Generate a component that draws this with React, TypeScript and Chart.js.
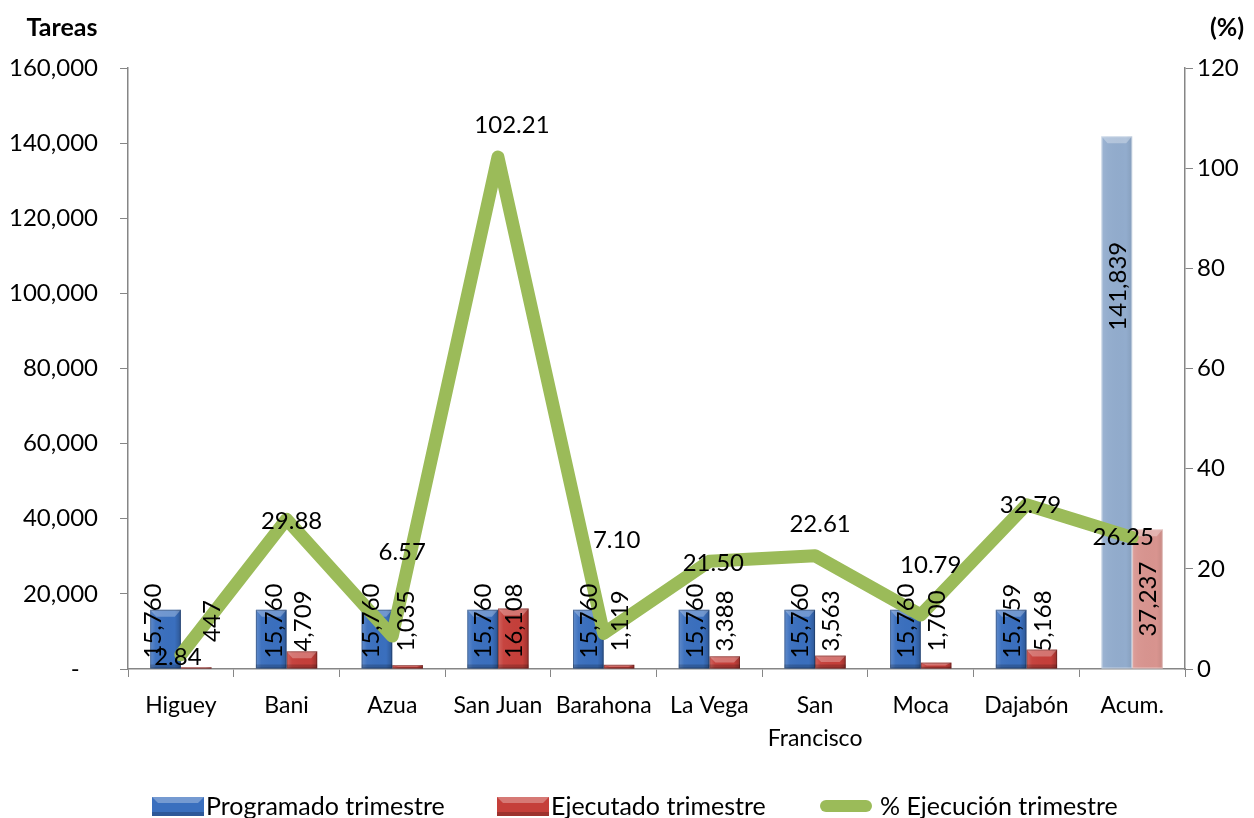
import React, { useEffect, useRef } from 'react';
import { Chart, registerables } from 'chart.js';

Chart.register(...registerables);

// ---- data ----
const categories: (string | string[])[] = [
  'Higuey', 'Bani', 'Azua', 'San Juan', 'Barahona', 'La Vega', ['San', 'Francisco'], 'Moca', 'Dajabón', 'Acum.',
];
const programado = [15760, 15760, 15760, 15760, 15760, 15760, 15760, 15760, 15759, 141839];
const ejecutado = [447, 4709, 1035, 16108, 1119, 3388, 3563, 1700, 5168, 37237];
const ejecucionPct = [2.84, 29.88, 6.57, 102.21, 7.1, 21.5, 22.61, 10.79, 32.79, 26.25];
const seriesNames = ['Programado trimestre', 'Ejecutado trimestre', '% Ejecución trimestre'];
const leftAxisTitle = 'Tareas';
const rightAxisTitle = '(%)';
const leftMax = 160000;
const leftStep = 20000;
const rightMax = 120;
const rightStep = 20;

// ---- style ----
const FONT = 'Lato, "Open Sans", sans-serif';
const BLUE = '#3A6FBE';
const RED = '#C53F3A';
const BLUE_LIGHT = '#92ACCD';
const RED_LIGHT = '#D8948F';
const GREEN = '#9BBB59';
const AXIS = '#868686';
// label shifts (pixels) for the % labels, per category [dx, dy]
const lineLabelShift = [[-3, 2], [5, 2], [10, -84], [14, -32], [13, -93], [4, 2], [5, -31], [10, -50], [4, 0], [-9, 0]];
// x shifts for the bar labels [programado, ejecutado]
const barLabelShiftX = [[-13, 15], [2, 0], [-7, -2], [0, 0], [0, 0], [0, 0], [0, 0], [0, 0], [0, 0], [0, 0]];

const fmt = (v: number) => v.toLocaleString('en-US');

const decorPlugin = {
  id: 'decor',
  afterDatasetDraw(chart: any, args: any) {
    if (args.index > 1) return;
    const ctx = chart.ctx as CanvasRenderingContext2D;
    const last = args.meta.data.length - 1;
    args.meta.data.forEach((bar: any, i: number) => {
      const { x, y, base, width } = bar.getProps(['x', 'y', 'base', 'width'], true);
      const l = x - width / 2;
      const r = x + width / 2;
      const h = base - y;
      if (h <= 0) return;
      ctx.save();
      const soft = i === last;
      const g = ctx.createLinearGradient(l, 0, r, 0);
      g.addColorStop(0, soft ? 'rgba(255,255,255,0.10)' : 'rgba(255,255,255,0.20)');
      g.addColorStop(0.18, 'rgba(255,255,255,0.03)');
      g.addColorStop(0.8, 'rgba(0,0,0,0)');
      g.addColorStop(1, soft ? 'rgba(0,0,0,0.08)' : 'rgba(0,0,0,0.22)');
      ctx.fillStyle = g;
      ctx.fillRect(l, y, width, h);
      const bh = Math.min(7, h / 2);
      ctx.beginPath();
      ctx.moveTo(l, y);
      ctx.lineTo(r, y);
      ctx.lineTo(r - 6, y + bh);
      ctx.lineTo(l + 6, y + bh);
      ctx.closePath();
      ctx.fillStyle = soft ? 'rgba(255,255,255,0.3)' : 'rgba(255,255,255,0.28)';
      ctx.fill();
      if (!soft) {
        const bb = Math.min(4, h / 3);
        ctx.fillStyle = 'rgba(0,0,0,0.18)';
        ctx.fillRect(l, base - bb, width, bb);
      }
      ctx.strokeStyle = soft ? 'rgba(255,255,255,0.45)' : 'rgba(0,0,0,0.25)';
      ctx.lineWidth = 1;
      ctx.strokeRect(l + 0.5, y + 0.5, width - 1, h - 1);
      ctx.restore();
    });
  },
  afterDatasetsDraw(chart: any) {
    const ctx = chart.ctx as CanvasRenderingContext2D;
    const zeroY = chart.scales.y.getPixelForValue(0);
    ctx.save();
    ctx.fillStyle = '#000';
    ctx.font = `24px ${FONT}`;
    ctx.textAlign = 'center';
    ctx.textBaseline = 'middle';
    [0, 1].forEach((di) => {
      const meta = chart.getDatasetMeta(di);
      const values = chart.data.datasets[di].data as number[];
      meta.data.forEach((bar: any, i: number) => {
        const { x, y } = bar.getProps(['x', 'y'], true);
        const h = zeroY - y;
        const cy = h > 100 ? y + Math.min(h / 2, 150) : zeroY - 48;
        ctx.save();
        ctx.translate(x + barLabelShiftX[i][di], cy);
        ctx.rotate(-Math.PI / 2);
        ctx.fillText(fmt(values[i]), 0, 1);
        ctx.restore();
      });
    });
    const lmeta = chart.getDatasetMeta(2);
    const lvals = chart.data.datasets[2].data as number[];
    lmeta.data.forEach((pt: any, i: number) => {
      const { x, y } = pt.getProps(['x', 'y'], true);
      ctx.fillText(lvals[i].toFixed(2), x + lineLabelShift[i][0], y + lineLabelShift[i][1]);
    });
    ctx.restore();
  },
  afterDraw(chart: any) {
    const ctx = chart.ctx as CanvasRenderingContext2D;
    ctx.save();
    ctx.fillStyle = '#000';
    ctx.font = `bold 25px ${FONT}`;
    ctx.textBaseline = 'middle';
    ctx.textAlign = 'center';
    ctx.fillText(leftAxisTitle, 62, 28);
    ctx.fillText(rightAxisTitle, 1227, 28);

    // legend
    const ly = 806;
    ctx.font = `25px ${FONT}`;
    ctx.textAlign = 'left';
    const items = [
      { x: 152, color: BLUE, kind: 'box' },
      { x: 497, color: RED, kind: 'box' },
      { x: 820, color: GREEN, kind: 'line' },
    ];
    items.forEach((it, k) => {
      if (it.kind === 'box') {
        const bx = it.x, bw = 52, by = ly - 9, bh = 19;
        ctx.fillStyle = it.color;
        ctx.fillRect(bx, by, bw, bh);
        ctx.fillStyle = 'rgba(255,255,255,0.3)';
        ctx.beginPath();
        ctx.moveTo(bx, by);
        ctx.lineTo(bx + bw, by);
        ctx.lineTo(bx + bw - 6, by + 6);
        ctx.lineTo(bx + 6, by + 6);
        ctx.closePath();
        ctx.fill();
        ctx.fillStyle = 'rgba(0,0,0,0.2)';
        ctx.fillRect(bx, by + bh - 4, bw, 4);
        ctx.fillStyle = '#000';
        ctx.fillText(seriesNames[k], bx + bw + 2, ly + 1);
      } else {
        ctx.strokeStyle = it.color;
        ctx.lineWidth = 12;
        ctx.lineCap = 'round';
        ctx.beginPath();
        ctx.moveTo(it.x + 6, ly);
        ctx.lineTo(it.x + 46, ly);
        ctx.stroke();
        ctx.fillStyle = '#000';
        ctx.fillText(seriesNames[k], it.x + 60, ly + 1);
      }
    });
    ctx.restore();
  },
};

export default function App() {
  const ref = useRef<HTMLCanvasElement | null>(null);
  useEffect(() => {
    document.body.style.margin = '0';
    if (!ref.current) return;
    const n = categories.length;
    const chart = new Chart(ref.current, {
      type: 'bar',
      data: {
        labels: categories as any,
        datasets: [
          {
            type: 'bar',
            label: seriesNames[0],
            data: programado,
            yAxisID: 'y',
            backgroundColor: programado.map((_, i) => (i === n - 1 ? BLUE_LIGHT : BLUE)),
            categoryPercentage: 0.58,
            barPercentage: 1,
            order: 1,
          },
          {
            type: 'bar',
            label: seriesNames[1],
            data: ejecutado,
            yAxisID: 'y',
            backgroundColor: ejecutado.map((_, i) => (i === n - 1 ? RED_LIGHT : RED)),
            categoryPercentage: 0.58,
            barPercentage: 1,
            order: 1,
          },
          {
            type: 'line',
            label: seriesNames[2],
            data: ejecucionPct,
            yAxisID: 'y1',
            borderColor: GREEN,
            backgroundColor: GREEN,
            borderWidth: 13,
            borderJoinStyle: 'round',
            borderCapStyle: 'round',
            pointRadius: 0,
            tension: 0,
            order: 0,
          } as any,
        ],
      },
      options: {
        responsive: false,
        animation: false,
        layout: { padding: { top: 68, left: 0, right: 0, bottom: 0 } },
        plugins: { legend: { display: false }, tooltip: { enabled: false }, title: { display: false } },
        scales: {
          x: {
            grid: { offset: true, drawOnChartArea: false, drawTicks: true, tickLength: 8, color: AXIS },
            border: { color: AXIS, width: 1.5 },
            ticks: {
              color: '#000',
              font: { family: FONT, size: 23, lineHeight: 1.45 },
              padding: 12,
              maxRotation: 0,
              autoSkip: false,
            },
            afterFit: (s: any) => { s.height = 149; },
          },
          y: {
            position: 'left',
            min: 0,
            max: leftMax,
            grid: { drawOnChartArea: false, drawTicks: true, tickLength: 8, color: AXIS },
            border: { color: AXIS, width: 1.5 },
            ticks: {
              stepSize: leftStep,
              color: '#000',
              font: { family: FONT, size: 24 },
              padding: 22,
              callback: (v: any) => (Number(v) === 0 ? '-   ' : fmt(Number(v))),
            },
            afterFit: (s: any) => { s.width = 128; },
          },
          y1: {
            position: 'right',
            min: 0,
            max: rightMax,
            grid: { drawOnChartArea: false, drawTicks: true, tickLength: 8, color: AXIS },
            border: { color: AXIS, width: 1.5 },
            ticks: {
              stepSize: rightStep,
              color: '#000',
              font: { family: FONT, size: 24 },
              padding: 4,
            },
            afterFit: (s: any) => { s.width = 69; },
          },
        },
      },
      plugins: [decorPlugin],
    });
    return () => chart.destroy();
  }, []);
  return (
    <div style={{ position: 'absolute', left: 0, top: 0, width: 1254, height: 818, background: '#fff' }}>
      <canvas ref={ref} width={1254} height={818} style={{ width: 1254, height: 818, display: 'block' }} />
    </div>
  );
}
